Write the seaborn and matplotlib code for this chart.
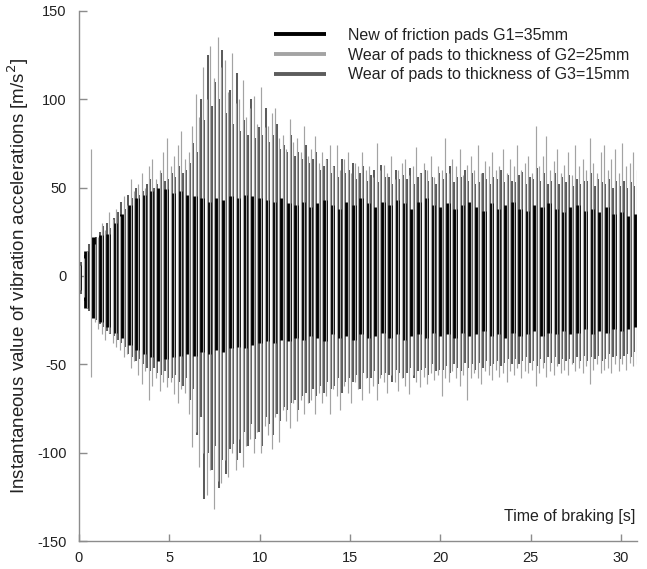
import numpy as np
import pandas as pd
import seaborn as sns
import matplotlib.pyplot as plt
from matplotlib.lines import Line2D

# time between successive spikes of each series [s], and the shift of each series
STEP = {"G1": 0.4, "G2": 0.2, "G3": 0.2}
OFFSETS = {"G1": 0.0, "G2": 0.07, "G3": 0.14}

labels = {
    "G1": "New of friction pads G1=35mm",
    "G2": "Wear of pads to thickness of G2=25mm",
    "G3": "Wear of pads to thickness of G3=15mm",
}
colors = {"G1": "#000000", "G2": "#a3a3a3", "G3": "#5c5c5c"}

# peak / trough values [m/s^2]
g1_peaks = [6, 14, 22, 23, 24, 30, 35, 40, 44, 46,
            48, 50, 49, 47, 48, 46, 45, 44, 42, 44,
            43, 45, 44, 46, 45, 44, 43, 42, 44, 41,
            40, 42, 39, 41, 43, 40, 38, 42, 40, 44,
            41, 39, 42, 40, 43, 41, 38, 42, 44, 40,
            39, 41, 38, 40, 42, 39, 37, 41, 38, 40,
            42, 38, 37, 40, 39, 41, 38, 36, 39, 40,
            37, 38, 36, 39, 35, 36, 34, 35]
g1_troughs = [-8, -18, -24, -26, -29, -32, -35, -39, -42, -44,
              -46, -48, -47, -46, -45, -44, -45, -43, -44, -42,
              -43, -41, -40, -41, -39, -38, -37, -38, -36, -37,
              -35, -36, -34, -35, -37, -33, -35, -34, -36, -33,
              -35, -34, -32, -35, -33, -36, -34, -33, -35, -32,
              -34, -33, -35, -32, -34, -33, -31, -34, -33, -35,
              -32, -34, -33, -31, -34, -32, -33, -31, -33, -32,
              -30, -33, -31, -32, -30, -31, -30, -29]

g2_peaks = [6, 10, 14, 72, 18, 22, 30, 26, 36, 32,
            38, 34, 45, 40, 55, 48, 52, 58, 50, 62,
            66, 55, 60, 70, 78, 62, 68, 74, 82, 66,
            70, 85, 103, 90, 118, 100, 130, 112, 135, 118,
            122, 104, 126, 98, 100, 111, 90, 95, 102, 86,
            107, 84, 85, 92, 95, 78, 80, 72, 89, 76,
            78, 70, 85, 68, 72, 79, 64, 70, 66, 74,
            62, 74, 60, 66, 70, 58, 64, 62, 70, 60,
            62, 56, 75, 60, 63, 58, 68, 55, 60, 64,
            66, 57, 62, 73, 58, 64, 60, 68, 56, 62,
            60, 78, 58, 66, 62, 72, 57, 63, 68, 60,
            74, 58, 65, 62, 70, 60, 62, 72, 58, 66,
            62, 74, 60, 64, 68, 58, 85, 62, 68, 79,
            60, 65, 72, 58, 63, 70, 57, 74, 62, 66,
            60, 78, 64, 58, 70, 74, 60, 66, 72, 58,
            75, 62, 64, 70, 60]
g2_troughs = [-8, -12, -18, -57, -26, -30, -33, -36, -32, -38,
              -40, -42, -46, -44, -52, -48, -56, -61, -54, -70,
              -62, -58, -65, -60, -63, -60, -67, -72, -64, -66,
              -78, -97, -88, -108, -100, -124, -110, -132, -116, -117,
              -104, -114, -100, -110, -92, -108, -96, -92, -100, -88,
              -100, -85, -90, -98, -80, -94, -76, -82, -86, -72,
              -82, -70, -78, -72, -70, -78, -66, -72, -68, -78,
              -64, -68, -76, -62, -66, -72, -60, -64, -70, -58,
              -66, -62, -70, -58, -60, -66, -56, -60, -65, -58,
              -62, -67, -56, -60, -63, -57, -61, -55, -59, -56,
              -68, -58, -60, -54, -58, -62, -56, -70, -58, -55,
              -58, -61, -54, -56, -59, -53, -57, -55, -60, -54,
              -56, -52, -58, -54, -55, -53, -62, -55, -52, -57,
              -54, -56, -51, -55, -53, -56, -50, -54, -52, -55,
              -51, -61, -53, -50, -55, -53, -52, -55, -50, -54,
              -50, -53, -49, -51, -50]

g3_peaks = [8, 12, 18, 20, 22, 25, 28, 30, 27, 33,
            36, 42, 38, 46, 44, 50, 46, 48, 52, 55,
            50, 52, 58, 54, 55, 58, 56, 62, 58, 60,
            64, 75, 70, 100, 88, 125, 96, 110, 100, 128,
            92, 105, 86, 115, 82, 88, 80, 100, 78, 84,
            80, 95, 76, 80, 86, 72, 74, 70, 80, 68,
            70, 66, 74, 64, 66, 70, 60, 62, 66, 58,
            62, 56, 66, 58, 60, 64, 55, 58, 62, 54,
            57, 60, 53, 63, 56, 56, 52, 60, 55, 57,
            55, 61, 52, 56, 58, 60, 54, 56, 52, 58,
            55, 58, 62, 53, 56, 56, 60, 54, 58, 52,
            53, 58, 55, 52, 56, 55, 60, 53, 57, 54,
            53, 57, 59, 52, 56, 55, 61, 54, 58, 52,
            54, 58, 52, 56, 53, 57, 51, 55, 52, 54,
            54, 58, 51, 55, 53, 52, 55, 50, 54, 51,
            54, 50, 53, 51, 50]
g3_troughs = [-10, -14, -20, -22, -25, -27, -29, -31, -33, -34,
              -36, -38, -40, -44, -46, -48, -47, -50, -52, -54,
              -52, -55, -56, -54, -58, -58, -56, -60, -62, -58,
              -70, -64, -90, -80, -126, -100, -110, -96, -120, -104,
              -112, -98, -95, -104, -100, -88, -96, -84, -92, -88,
              -96, -80, -84, -90, -78, -82, -74, -76, -72, -70,
              -76, -68, -66, -72, -64, -68, -62, -66, -60, -64,
              -62, -58, -66, -60, -58, -60, -56, -64, -55, -58,
              -58, -54, -61, -56, -55, -56, -60, -53, -55, -58,
              -55, -52, -58, -54, -53, -52, -56, -50, -54, -53,
              -53, -51, -55, -50, -52, -54, -49, -52, -50, -53,
              -49, -52, -48, -51, -50, -48, -51, -49, -47, -50,
              -47, -50, -48, -46, -49, -48, -51, -47, -49, -46,
              -49, -46, -50, -47, -48, -47, -49, -46, -48, -45,
              -48, -46, -47, -45, -48, -47, -44, -46, -45, -47,
              -45, -44, -46, -43, -44]

series = {
    "G1": (g1_peaks, g1_troughs),
    "G2": (g2_peaks, g2_troughs),
    "G3": (g3_peaks, g3_troughs),
}
y_ticks = [-150, -100, -50, 0, 50, 100, 150]
x_ticks = [0, 5, 10, 15, 20, 25, 30]


def to_frame(key):
    # one vertical spike (trough -> peak) per sample, one unit per spike
    peaks, troughs = series[key]
    n = len(peaks)
    t = np.arange(n) * STEP[key] + OFFSETS[key]
    return pd.DataFrame({
        "time": np.repeat(t, 2),
        "acc": np.column_stack([troughs, peaks]).ravel(),
        "spike": np.repeat(np.arange(n), 2),
    })


sns.set_theme(style="white")
plt.rcParams["font.family"] = ["Liberation Sans", "DejaVu Sans"]
plt.rcParams["axes.unicode_minus"] = False
plt.rcParams["lines.solid_capstyle"] = "butt"

fig = plt.figure(figsize=(6.47, 5.69), dpi=100)
ax = fig.add_axes([0.122, 0.049, 0.863, 0.932])

# dark gray below, black core, light gray on top
widths = {"G3": 1.45, "G1": 3.4, "G2": 0.85}
for key in ["G3", "G1", "G2"]:
    sns.lineplot(data=to_frame(key), x="time", y="acc", units="spike",
                 estimator=None, sort=False, color=colors[key],
                 lw=widths[key], ax=ax)

ax.set_xlim(0, 30.9)
ax.set_ylim(-150, 150)
ax.set_xticks(x_ticks)
ax.set_yticks(y_ticks)
ax.set_xticklabels([str(v) for v in x_ticks])
ax.set_yticklabels([str(v) for v in y_ticks])
sns.despine(ax=ax)
for side in ["left", "bottom"]:
    ax.spines[side].set_color("#8c8c8c")
    ax.spines[side].set_linewidth(1.0)
ax.tick_params(bottom=True, left=True, direction="in", width=1.0,
               color="#8c8c8c", labelsize=10.5, labelcolor="#222222")
ax.tick_params(axis="x", length=5, pad=7)
ax.tick_params(axis="y", length=6, pad=9)

ax.set_ylabel("Instantaneous value of vibration accelerations [m/s$^2$]",
              fontsize=13.5, color="#222222")
ax.yaxis.set_label_coords(-0.085, 0.5)
ax.set_xlabel("Time of braking [s]", fontsize=11.5, color="#222222",
              ha="right", va="center")
ax.xaxis.set_label_coords(0.997, 0.047)

handles = [Line2D([], [], color=colors[k], lw=2.8) for k in ["G1", "G2", "G3"]]
ax.legend(handles, [labels[k] for k in ["G1", "G2", "G3"]],
          loc="upper left", bbox_to_anchor=(0.3495, 0.968), frameon=False,
          borderpad=0, borderaxespad=0, handlelength=3.25, handletextpad=1.4,
          labelspacing=0.3, fontsize=11.5, labelcolor="#222222")

fig.savefig("out.png", dpi=100)
plt.close(fig)
